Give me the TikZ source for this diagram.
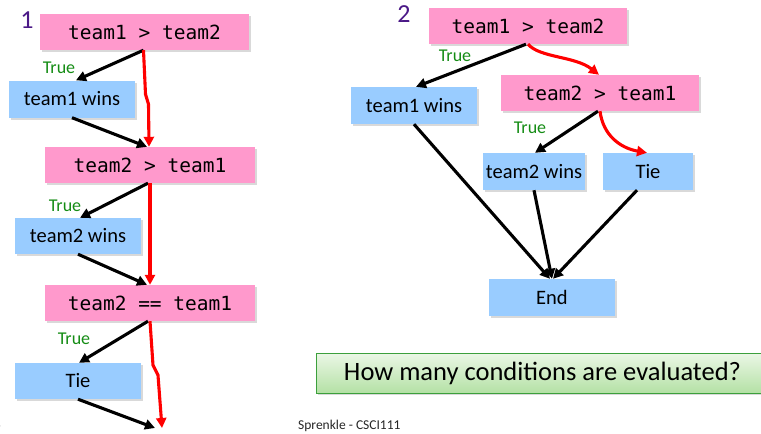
\documentclass[tikz,border=0pt]{standalone}
\usepackage{fontspec}
\setmainfont{Carlito}
\newfontfamily\boxmono{DejaVu Sans Mono}
\usetikzlibrary{arrows.meta,shadows}
\definecolor{pinkc}{RGB}{255,153,204}
\definecolor{bluec}{RGB}{153,204,255}
\definecolor{truec}{RGB}{20,140,20}
\definecolor{numc}{RGB}{75,25,135}
\definecolor{qborder}{RGB}{60,160,60}
\definecolor{qtop}{RGB}{235,247,230}
\definecolor{qbot}{RGB}{180,225,165}
\tikzset{
  boxshadow/.style={drop shadow={opacity=0.3,shadow xshift=2pt,shadow yshift=-2pt}},
  condbox/.style={fill=pinkc,boxshadow,inner sep=0pt,minimum height=36pt,font=\boxmono\fontsize{19.5}{22}\selectfont},
  actbox/.style={fill=bluec,boxshadow,inner sep=0pt,minimum height=37pt,font=\fontsize{20.5}{24}\selectfont},
  truelbl/.style={text=truec,inner sep=0pt,font=\fontsize{18}{21}\selectfont},
  numlbl/.style={text=numc,inner sep=0pt,font=\fontsize{26}{30}\selectfont},
  blk/.style={draw=black,line width=3.1pt,-{Triangle[length=10pt,width=10pt]}},
  redarr/.style={draw=red,line width=3.1pt,-{Triangle[length=10pt,width=10pt]}},
}
\begin{document}
\begin{tikzpicture}[x=1pt,y=-1pt]
\useasboundingbox (0,0) rectangle (761,434);
% ---- left chart
\node[numlbl] (n1) at (27,20) {1};
\node[condbox,minimum width=209pt] (A1) at (144.5,32) {team1 > team2};
\node[actbox,minimum width=126pt] (B1) at (72,99) {team1 wins};
\node[truelbl] (t1) at (59,68) {True};
\node[condbox,minimum width=210pt] (A2) at (150,165) {team2 > team1};
\node[truelbl] (t2) at (65,206) {True};
\node[actbox,minimum width=126pt,minimum height=36pt] (B2) at (78,236) {team2 wins};
\node[condbox,minimum width=210pt] (A3) at (150,303) {team2 == team1};
\node[truelbl] (t3) at (74,339) {True};
\node[actbox,minimum width=126pt,minimum height=36pt] (B3) at (78,381) {Tie};
\coordinate (endB) at (155,428);
\coordinate (endR) at (162,428);
\node[inner sep=0pt,font=\fontsize{11}{13}\selectfont] (pg) at (-2,425) {3};

\draw[blk] ([xshift=-1pt]A1.south) -- ([xshift=4pt]B1.north);
\draw[blk] (B1.south) -- ([xshift=-3pt]A2.north);
\draw[redarr] ([xshift=-1pt]A1.south) -- ++(2,44) -- ++(3,10) -- ([xshift=-1pt]A2.north);
\draw[blk] ([xshift=-2pt]A2.south) -- ([xshift=2pt]B2.north);
\draw[blk] (B2.south) -- ([xshift=-3pt]A3.north);
\draw[redarr] (A2.south) -- (A3.north);
\draw[blk] ([xshift=-2pt]A3.south) -- ([xshift=1pt]B3.north);
\draw[blk] (B3.south) -- (endB);
\draw[redarr] (A3.south) -- ++(3,44) -- ++(5,10) -- (endR);

% ---- right chart
\node[numlbl] (n2) at (404,14) {2};
\node[condbox,minimum width=198pt] (C1) at (528,26) {team1 > team2};
\node[truelbl] (t4) at (455,56) {True};
\node[actbox,minimum width=126pt] (D1) at (414,105.5) {team1 wins};
\node[condbox,minimum width=198pt] (C2) at (600,93) {team2 > team1};
\node[truelbl] (t5) at (530,128) {True};
\node[actbox,minimum width=102pt] (D2) at (534,171.5) {team2 wins};
\node[actbox,minimum width=90pt] (D3) at (648,171.5) {Tie};
\node[actbox,minimum width=126pt] (E) at (552,297.5) {End};

\draw[blk] ([xshift=-2pt]C1.south) -- ([xshift=2pt]D1.north);
\draw[redarr] (C1.south) .. controls (540,58) and (575,56) .. ([xshift=-1pt]C2.north);
\draw[blk] ([xshift=-2pt]C2.south) -- ([xshift=1pt]D2.north);
\draw[redarr] (C2.south) .. controls (603,135) and (620,148) .. ([xshift=-1pt]D3.north);
\draw[blk] (D1.south) -- ([xshift=-2pt]E.north);
\draw[blk] (D2.south) -- (E.north);
\draw[blk] ([xshift=-11pt]D3.south) -- ([xshift=1pt]E.north);

% ---- question and footer
\node[draw=qborder,line width=0.8pt,top color=qtop,bottom color=qbot,boxshadow,
      minimum width=453pt,minimum height=40pt,inner sep=0pt,anchor=west] (Q) at (316,373) {};
\node[inner sep=0pt,font=\fontsize{26.5}{30}\selectfont] (qt) at (542.5,373) {How many conditions are evaluated?};
\node[inner sep=0pt,anchor=west,text=black!85,font=\fontsize{13.5}{16}\selectfont] (foot) at (298,426) {Sprenkle - CSCI111};
\end{tikzpicture}
\end{document}
